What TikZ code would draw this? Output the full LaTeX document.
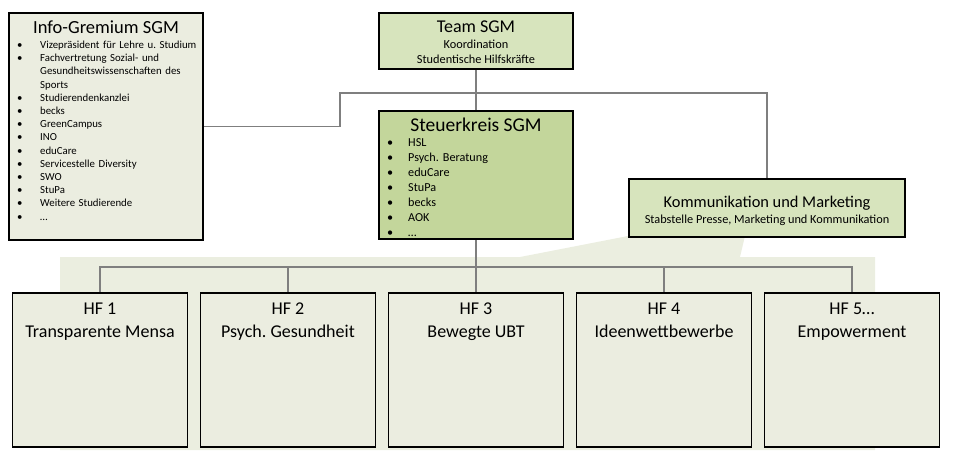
\documentclass[tikz,border=0pt]{standalone}
\usepackage{fontspec}
\setmainfont{Carlito}
\usetikzlibrary{positioning}
\definecolor{boxgrey}{HTML}{EBEDE0}
\definecolor{boxgreen}{HTML}{D7E4BD}
\definecolor{boxdark}{HTML}{C3D69B}
\definecolor{backgr}{HTML}{EBEEE0}
\definecolor{lineg}{HTML}{7F7F7F}
\newcommand{\bul}[1]{\makebox[#1][l]{\textbullet}}
\frenchspacing
\begin{document}
\begin{tikzpicture}[x=1pt,y=-1pt,node distance=11.4pt,
    box/.style={rectangle,draw=black,line width=1.6pt,inner sep=0pt},
    hf box/.style={box,fill=boxgrey,minimum width=175pt,minimum height=154.4pt},
    conn/.style={draw=lineg,line width=1.1pt},
    big/.style={anchor=base,inner sep=0pt,font=\fontsize{18}{23}\selectfont},
    small/.style={anchor=base,inner sep=0pt,font=\fontsize{12.3}{15}\selectfont},
    list/.style={anchor=base west,inner sep=0pt,align=left,text width=185pt}]

  \useasboundingbox (0,0) rectangle (955,457);
  \fill[backgr] (60,257) -- (520,257) -- (628,236) -- (745,236) -- (740,257)
    -- (875,257) -- (875,450) -- (60,450) -- cycle;

  \node[box,fill=boxgrey,minimum width=194.4pt,minimum height=227.4pt] (info) at (106,126.5) {};
  \node[box,fill=boxgreen,minimum width=194.4pt,minimum height=56.4pt] (team) at (476,41) {};
  \node[box,fill=boxdark,minimum width=194.4pt,minimum height=128.4pt] (steuer) at (476,175) {};
  \node[box,fill=boxgreen,minimum width=276.4pt,minimum height=58.4pt] (komm) at (767,208) {};

  \node[hf box] (hf1) at (100,370) {};
  \node[hf box] (hf2) [right=of hf1] {};
  \node[hf box] (hf3) [right=of hf2] {};
  \node[hf box] (hf4) [right=of hf3] {};
  \node[hf box] (hf5) [right=of hf4] {};

  \coordinate (bar) at (476,267);
  \coordinate (k1) at (340,93);
  \draw[conn] (team) -- (steuer);
  \draw[conn] (steuer) -- (hf3);
  \foreach \i in {1,2,4,5}
    \draw[conn] (hf\i.north) |- (bar);
  \draw[conn] (info.east) -| (k1) -| (komm.north);

  \node[big,font=\fontsize{18.5}{23}\selectfont] (infot) at (106,34) {Info-Gremium SGM};
  \node[list,font=\fontsize{10.8}{13.2}\selectfont] (infol) at (17,48.5)
    {\bul{23pt}Vizepräsident für Lehre u. Studium\\
     \bul{23pt}Fachvertretung Sozial- und\\
     \hspace*{23pt}Gesundheitswissenschaften des\\
     \hspace*{23pt}Sports\\
     \bul{23pt}Studierendenkanzlei\\
     \bul{23pt}becks\\
     \bul{23pt}GreenCampus\\
     \bul{23pt}INO\\
     \bul{23pt}eduCare\\
     \bul{23pt}Servicestelle Diversity\\
     \bul{23pt}SWO\\
     \bul{23pt}StuPa\\
     \bul{23pt}Weitere Studierende\\
     \bul{23pt}…};

  \node[big] (teamt) at (476,33) {Team SGM};
  \node[small] (teams1) at (476,49) {Koordination};
  \node[small] (teams2) at (476,64) {Studentische Hilfskräfte};

  \node[big,font=\fontsize{19.5}{23}\selectfont] (steuert) at (476,131.5) {Steuerkreis SGM};
  \node[list,font=\fontsize{12.2}{15}\selectfont] (steuerl) at (387,147)
    {\bul{21pt}HSL\\
     \bul{21pt}Psych. Beratung\\
     \bul{21pt}eduCare\\
     \bul{21pt}StuPa\\
     \bul{21pt}becks\\
     \bul{21pt}AOK\\
     \bul{21pt}…};

  \node[big,font=\fontsize{16.4}{20}\selectfont] (kommt) at (767,207.5) {Kommunikation und Marketing};
  \node[small] (komms) at (767,223) {Stabstelle Presse, Marketing und Kommunikation};

  \node[big,align=center] (hf1t) at (hf1.north |- 0,337) {HF 1\\Transparente Mensa};
  \node[big,align=center] (hf2t) at (hf2.north |- 0,337) {HF 2\\Psych. Gesundheit};
  \node[big,align=center] (hf3t) at (hf3.north |- 0,337) {HF 3\\Bewegte UBT};
  \node[big,align=center] (hf4t) at (hf4.north |- 0,337) {HF 4\\Ideenwettbewerbe};
  \node[big,align=center] (hf5t) at (hf5.north |- 0,337) {HF 5…\\Empowerment};
\end{tikzpicture}
\end{document}
